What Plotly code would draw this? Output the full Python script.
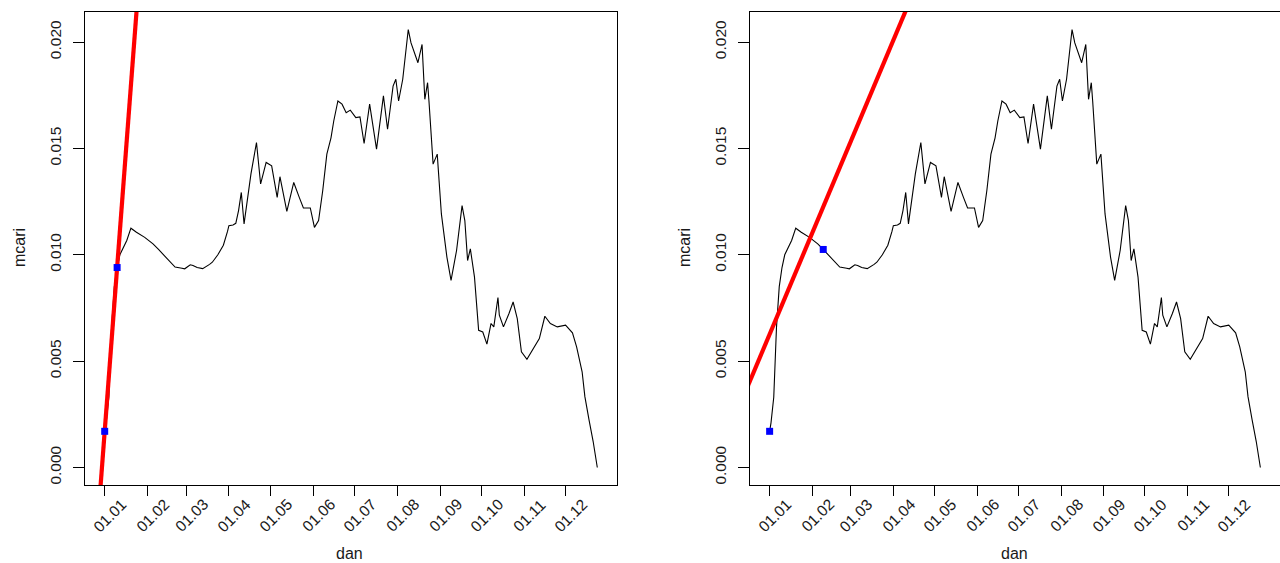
import pandas as pd
import plotly.graph_objects as go

# ---------------- data ----------------
start_date = "2021-01-01"

day_offsets = [0, 1, 3, 4, 5, 7, 9, 11, 16, 19, 20, 23, 29, 35, 39, 44, 51, 56, 58, 62,
               64, 67, 71, 76, 78, 82, 86, 89, 90, 93, 95, 97, 99, 101, 104, 106, 110, 113,
               117, 121, 125, 127, 132, 137, 141, 144, 149, 152, 155, 158, 161, 164, 166,
               169, 172, 175, 178, 182, 185, 188, 192, 194, 197, 202, 205, 209, 211, 213,
               216, 220, 222, 227, 230, 232, 234, 235, 238, 241, 244, 248, 251, 255, 259,
               261, 263, 265, 268, 271, 274, 277, 280, 282, 285, 286, 289, 293, 296, 299,
               302, 306, 310, 312, 315, 319, 323, 328, 334, 339, 342, 346, 348, 351, 354, 357]

mcari = [0.00170, 0.00210, 0.00330, 0.00480, 0.00660, 0.00850, 0.00940, 0.01000, 0.01067,
         0.01125, 0.01120, 0.01106, 0.01082, 0.01051, 0.01025, 0.00989, 0.00942, 0.00937,
         0.00934, 0.00953, 0.00950, 0.00940, 0.00935, 0.00955, 0.00965, 0.01000, 0.01045,
         0.01110, 0.01137, 0.01140, 0.01148, 0.01208, 0.01293, 0.01145, 0.01300, 0.01380,
         0.01528, 0.01333, 0.01434, 0.01418, 0.01270, 0.01367, 0.01204, 0.01340, 0.01270,
         0.01220, 0.01220, 0.01129, 0.01161, 0.01301, 0.01473, 0.01550, 0.01629, 0.01723,
         0.01708, 0.01668, 0.01680, 0.01645, 0.01648, 0.01523, 0.01708, 0.01629, 0.01497,
         0.01747, 0.01590, 0.01793, 0.01825, 0.01723, 0.01825, 0.02059, 0.01996, 0.01903,
         0.01989, 0.01731, 0.01809, 0.01723, 0.01426, 0.01473, 0.01192, 0.00989, 0.00880,
         0.01020, 0.01231, 0.01161, 0.00973, 0.01028, 0.00895, 0.00645, 0.00637, 0.00580,
         0.00677, 0.00661, 0.00799, 0.00716, 0.00661, 0.00724, 0.00778, 0.00700, 0.00544,
         0.00509, 0.00552, 0.00567, 0.00606, 0.00711, 0.00677, 0.00661, 0.00669, 0.00633,
         0.00567, 0.00450, 0.00333, 0.00224, 0.00122, 0.00000]

tick_dates = ["2021-01-01", "2021-02-01", "2021-03-01", "2021-04-01", "2021-05-01",
              "2021-06-01", "2021-07-01", "2021-08-01", "2021-09-01", "2021-10-01",
              "2021-11-01", "2021-12-01"]
tick_labels = ["01.01", "01.02", "01.03", "01.04", "01.05", "01.06",
               "01.07", "01.08", "01.09", "01.10", "01.11", "01.12"]
y_ticks = [0.0, 0.005, 0.010, 0.015, 0.020]
y_tick_labels = ["0.000", "0.005", "0.010", "0.015", "0.020"]

# highlighted points (blue) and fitted lines (red) per panel
left_point_days = [0, 9]
left_point_vals = [0.00170, 0.00940]
right_point_days = [0, 39]
right_point_vals = [0.00170, 0.01025]
left_line_days = [-5, 30]
left_line_vals = [-0.00258, 0.02738]
right_line_days = [-20, 110]
right_line_vals = [0.00319, 0.02316]

x_title = "dan"
y_title = "mcari"

# ---------------- helpers ----------------
base = pd.Timestamp(start_date)


def to_dates(offsets):
    return [base + pd.Timedelta(days=d) for d in offsets]


dates = to_dates(day_offsets)

# R-style 4% axis padding
dmin, dmax = min(day_offsets), max(day_offsets)
pad_x = 0.04 * (dmax - dmin)
x_range = [base + pd.Timedelta(days=dmin - pad_x), base + pd.Timedelta(days=dmax + pad_x)]
ymin, ymax = min(mcari), max(mcari)
pad_y = 0.04 * (ymax - ymin)
y_range = [ymin - pad_y, ymax + pad_y]

W, H = 1280, 563
FONT = "Liberation Sans, Arial, sans-serif"
TXT = "#1a1a1a"

left_px = (85, 617)
right_px = (750, 1280)
top_px, bot_px = 12, 485

fig = go.Figure()

panels = [
    ("x", "y", left_point_days, left_point_vals, left_line_days, left_line_vals),
    ("x2", "y2", right_point_days, right_point_vals, right_line_days, right_line_vals),
]

for xa, ya, pd_days, pd_vals, ld, lv in panels:
    fig.add_trace(go.Scatter(x=dates, y=mcari, mode="lines",
                             line=dict(color="black", width=1.1),
                             xaxis=xa, yaxis=ya, showlegend=False, hoverinfo="skip"))
    fig.add_trace(go.Scatter(x=to_dates(ld), y=lv, mode="lines",
                             line=dict(color="#ff0000", width=4.2),
                             xaxis=xa, yaxis=ya, showlegend=False, hoverinfo="skip"))
    fig.add_trace(go.Scatter(x=to_dates(pd_days), y=pd_vals, mode="markers",
                             marker=dict(symbol="square", size=7, color="#0000ff",
                                         line=dict(width=0)),
                             xaxis=xa, yaxis=ya, showlegend=False, hoverinfo="skip"))

common_x = dict(type="date", range=x_range, showgrid=False, zeroline=False,
                showline=True, linecolor="black", linewidth=1, mirror=True,
                ticks="outside", ticklen=10, tickcolor="black", tickwidth=1,
                tickvals=tick_dates, showticklabels=False)
common_y = dict(range=y_range, showgrid=False, zeroline=False,
                showline=True, linecolor="black", linewidth=1, mirror=True,
                ticks="outside", ticklen=11, tickcolor="black", tickwidth=1,
                tickvals=y_ticks, ticktext=y_tick_labels, tickangle=-90,
                tickfont=dict(family=FONT, size=15.5, color=TXT),
                ticklabelstandoff=6)

ydom = [1 - bot_px / H, 1 - top_px / H]
fig.update_layout(
    width=W, height=H,
    margin=dict(l=0, r=0, t=0, b=0),
    paper_bgcolor="white", plot_bgcolor="white",
    xaxis=dict(domain=[left_px[0] / W, left_px[1] / W], anchor="y", **common_x),
    yaxis=dict(domain=ydom, anchor="x", **common_y),
    xaxis2=dict(domain=[right_px[0] / W, right_px[1] / W], anchor="y2", **common_x),
    yaxis2=dict(domain=ydom, anchor="x2", **common_y),
)

annotations = []
label_y = 1 - 515 / H
for xref, px in (("x", left_px), ("x2", right_px)):
    for d, t in zip(tick_dates, tick_labels):
        annotations.append(dict(x=d, y=label_y, xref=xref, yref="paper", text=t,
                                showarrow=False, textangle=-45, xanchor="center",
                                yanchor="middle", xshift=5,
                                font=dict(family=FONT, size=15.5, color=TXT)))
    # axis titles
    annotations.append(dict(x=(px[0] - 66) / W, y=1 - 248 / H, xref="paper", yref="paper",
                            text=y_title, showarrow=False, textangle=-90,
                            xanchor="center", yanchor="middle",
                            font=dict(family=FONT, size=16, color=TXT)))
    annotations.append(dict(x=(px[0] + 264) / W, y=1 - 553 / H, xref="paper", yref="paper",
                            text=x_title, showarrow=False,
                            xanchor="center", yanchor="middle",
                            font=dict(family=FONT, size=16, color=TXT)))
fig.update_layout(annotations=annotations)

fig.write_html("out.html",
               config={"displayModeBar": False},
               post_script="document.body.style.margin='0';document.body.style.overflow='hidden';")
